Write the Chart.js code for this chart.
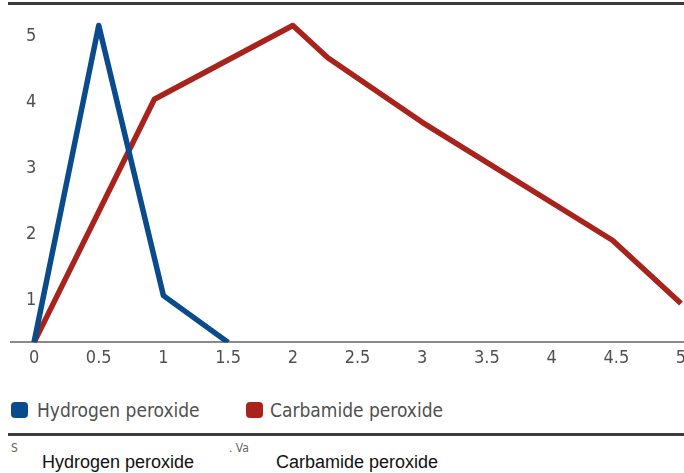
<!DOCTYPE html>
<html>
<head>
<meta charset="utf-8">
<script src="https://cdn.jsdelivr.net/npm/chart.js@4.4.1/dist/chart.umd.min.js"></script>
<style>
  html, body { margin: 0; padding: 0; background: #fff; overflow: hidden; }
  #wrap { position: relative; width: 684px; height: 473px; overflow: hidden; }
  #chartBox { position: absolute; left: 0; top: 0; width: 684px; height: 374px; }
  .rule { position: absolute; left: 8px; right: 0; height: 3px; background: #3c3c3c; }
  .cond { font-family: "DejaVu Sans Condensed", "Liberation Sans Narrow", "DejaVu Sans", sans-serif; font-stretch: condensed; }
  .lgbox { position: absolute; width: 17px; height: 16px; border-radius: 4px; }
  .lgtxt { position: absolute; font-size: 19px; line-height: 22px; color: #505050; white-space: nowrap; }
  .small { position: absolute; font-size: 12px; line-height: 14px; color: #666; white-space: nowrap; }
  .cap { position: absolute; font-family: "Liberation Sans", Arial, sans-serif; font-size: 18px; line-height: 20px; color: #111; white-space: nowrap; }
</style>
</head>
<body>
<div id="wrap">
  <div class="rule" style="top:2px;"></div>
  <div id="chartBox"><canvas id="c"></canvas></div>
  <div id="legend"></div>
  <div class="rule" style="top:433px;"></div>
  <div class="small cond" style="left:11px; top:441px;">S</div>
  <div class="small cond" style="left:229px; top:441px;">. Va</div>
  <div class="cap" style="left:42px; top:452px;">Hydrogen peroxide</div>
  <div class="cap" style="left:276px; top:452px;">Carbamide peroxide</div>
</div>
<script>
// ---- data ----
const seriesNames = ["Hydrogen peroxide", "Carbamide peroxide"];
const seriesColors = ["#0a4c8b", "#a8231c"];
const hydrogenX = [0, 0.5, 1.0, 1.5];
const hydrogenY = [0.36, 5.17, 1.07, 0.36];
const carbamideX = [0, 0.93, 2.0, 2.27, 3.0, 4.47, 5.0];
const carbamideY = [0.36, 4.05, 5.17, 4.68, 3.7, 1.91, 0.95];
const xTickValues = [0, 0.5, 1, 1.5, 2, 2.5, 3, 3.5, 4, 4.5, 5];
const xTickLabels = ["0", "0.5", "1", "1.5", "2", "2.5", "3", "3.5", "4", "4.5", "5"];
const yTickValues = [1, 2, 3, 4, 5];
const yTickLabels = ["1", "2", "3", "4", "5"];

const FONT_FAMILY = '"DejaVu Sans Condensed", "Liberation Sans Narrow", "DejaVu Sans", sans-serif';

function pts(xs, ys) { return xs.map((x, i) => ({ x: x, y: ys[i] })); }

// HTML legend
const legendPos = [{ box: 11, txt: 37 }, { box: 246, txt: 270 }];
const legendEl = document.getElementById('legend');
seriesNames.forEach((name, i) => {
  const b = document.createElement('div');
  b.className = 'lgbox';
  b.style.left = legendPos[i].box + 'px';
  b.style.top = '402px';
  b.style.background = seriesColors[i];
  legendEl.appendChild(b);
  const t = document.createElement('div');
  t.className = 'lgtxt cond';
  t.style.left = legendPos[i].txt + 'px';
  t.style.top = '399px';
  t.textContent = name;
  legendEl.appendChild(t);
});

new Chart(document.getElementById('c'), {
  type: 'line',
  data: {
    datasets: [
      { label: seriesNames[0], data: pts(hydrogenX, hydrogenY), borderColor: seriesColors[0], backgroundColor: seriesColors[0],
        borderWidth: 5.5, pointRadius: 0, tension: 0, fill: false, borderJoinStyle: 'round' },
      { label: seriesNames[1], data: pts(carbamideX, carbamideY), borderColor: seriesColors[1], backgroundColor: seriesColors[1],
        borderWidth: 5.5, pointRadius: 0, tension: 0, fill: false, borderJoinStyle: 'round' }
    ]
  },
  options: {
    responsive: true,
    maintainAspectRatio: false,
    animation: false,
    layout: { padding: { left: 11, top: 10, right: 0, bottom: 0 } },
    plugins: { legend: { display: false }, tooltip: { enabled: false } },
    scales: {
      x: {
        type: 'linear',
        min: -0.178,
        max: 5.023,
        afterBuildTicks: (s) => { s.ticks = xTickValues.map(v => ({ value: v })); },
        afterFit: (s) => { s.paddingLeft = 0; s.paddingRight = 0; },
        grid: { display: false, drawTicks: false, tickLength: 0 },
        border: { display: true, color: '#8a8a8a', width: 2 },
        ticks: {
          padding: 5,
          color: '#505050',
          font: { family: FONT_FAMILY, size: 18 },
          autoSkip: false,
          maxRotation: 0,
          callback: (v) => { const i = xTickValues.indexOf(v); return i >= 0 ? xTickLabels[i] : ''; }
        }
      },
      y: {
        type: 'linear',
        min: 0.36,
        max: 5.405,
        afterBuildTicks: (s) => { s.ticks = yTickValues.map(v => ({ value: v })); },
        afterFit: (s) => { s.paddingTop = 0; s.paddingBottom = 0; s.width = 0; },
        grid: { display: false, drawTicks: false, tickLength: 0 },
        border: { display: false },
        ticks: {
          mirror: true,
          padding: 15,
          color: '#505050',
          font: { family: FONT_FAMILY, size: 18 },
          callback: (v) => { const i = yTickValues.indexOf(v); return i >= 0 ? yTickLabels[i] : ''; }
        }
      }
    }
  }
});
</script>
</body>
</html>
